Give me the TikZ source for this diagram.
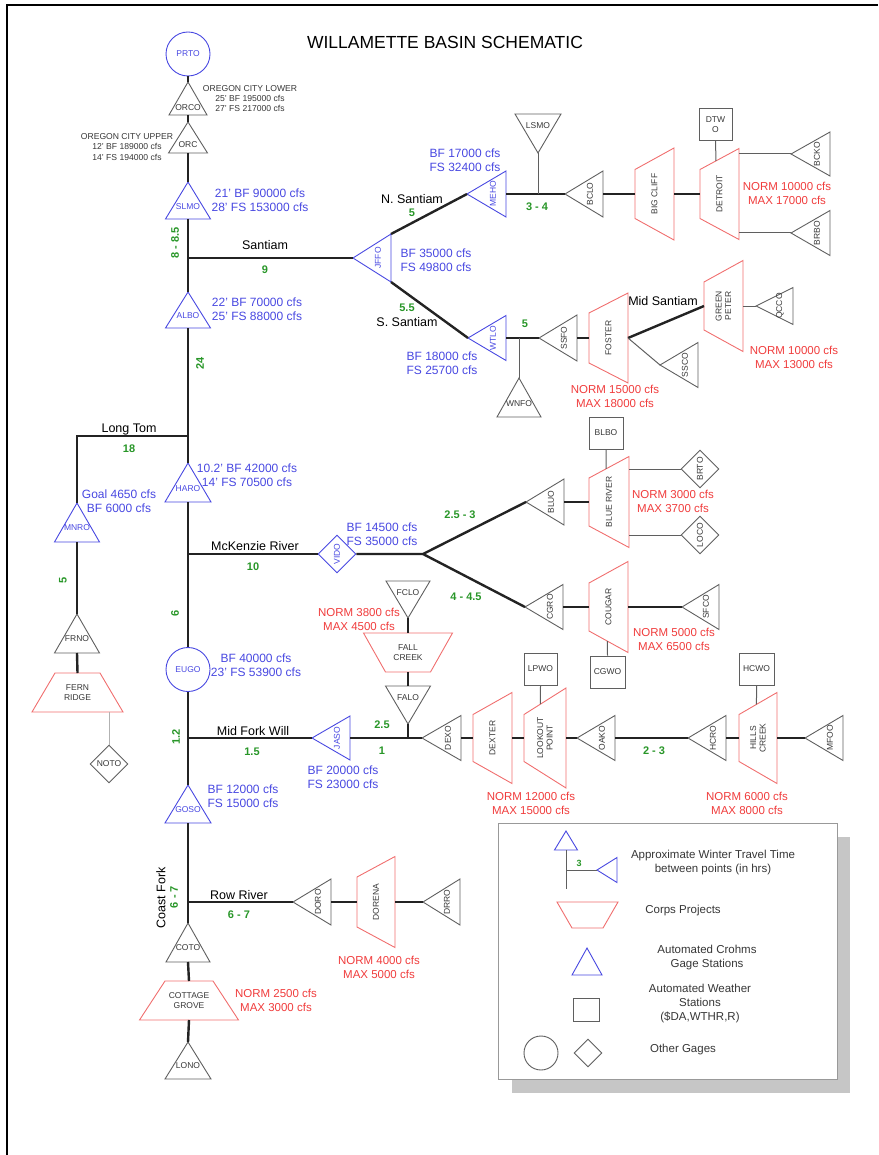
\documentclass[tikz,border=0pt]{standalone}
\usepackage{fontspec}
\setmainfont{Liberation Sans}
\usetikzlibrary{shapes.geometric,calc}
\definecolor{cb}{RGB}{72,72,225}
\definecolor{cr}{RGB}{240,110,110}
\definecolor{crt}{RGB}{240,60,60}
\definecolor{cg}{RGB}{95,95,95}
\definecolor{tg}{RGB}{55,55,55}
\definecolor{cgr}{RGB}{40,150,40}
\definecolor{cs}{RGB}{35,35,35}
\tikzset{
 shp/.style={line width=0.9pt},
 kb/.style={draw=cb,text=cb},
 kg/.style={draw=cg,text=tg},
 proj/.style={draw=cr,line width=0.9pt},
 lbl/.style={font=\fontsize{8.5}{9.5}\selectfont,inner sep=0pt,align=center},
 stem/.style={draw=cs,line width=2.4pt},
 thinl/.style={draw=cg,line width=1pt},
 bl/.style={text=cb,font=\fontsize{12}{14}\selectfont,align=center,inner sep=0pt},
 rl/.style={text=crt,font=\fontsize{11.5}{14}\selectfont,align=center,inner sep=0pt},
 gl/.style={text=cgr,font=\bfseries\fontsize{11}{13}\selectfont,inner sep=0pt},
 rv/.style={text=black,font=\fontsize{12.5}{15}\selectfont,inner sep=0pt},
 ol/.style={text=tg,font=\fontsize{8.6}{10.3}\selectfont,align=center,inner sep=0pt},
 lg/.style={text=tg,font=\fontsize{11.5}{14}\selectfont,align=center,inner sep=0pt},
 wbox/.style={draw=cg,line width=0.9pt,minimum width=33pt,minimum height=32pt,inner sep=0pt,align=center,text=tg,font=\fontsize{8.5}{9.5}\selectfont},
 diam/.style={diamond,aspect=1,minimum width=38pt,minimum height=38pt,inner sep=0pt,line width=0.9pt,font=\fontsize{8.5}{9.5}\selectfont},
 circ/.style={circle,minimum size=44pt,inner sep=0pt,line width=0.9pt,font=\fontsize{8.5}{9.5}\selectfont},
}
% up triangle: name, x, apex y, half width, height, style, text, text offset above base
\newcommand\myTU[8]{%
 \draw[shp,#6] (#2,#3) -- ({#2+#4},{#3+#5}) -- ({#2-#4},{#3+#5}) -- cycle;
 \coordinate (#1-t) at (#2,#3); \coordinate (#1-b) at (#2,{#3+#5});
 \node[lbl,#6,draw=none] (#1) at (#2,{#3+#5-#8}) {#7};}
% left-pointing triangle: name, tip x, tip y, half height, length, style, text
\newcommand\myTL[7]{%
 \draw[shp,#6] (#2,#3) -- ({#2+#5},{#3-#4}) -- ({#2+#5},{#3+#4}) -- cycle;
 \coordinate (#1-t) at (#2,#3); \coordinate (#1-b) at ({#2+#5},#3);
 \coordinate (#1-bn) at ({#2+#5},{#3-#4}); \coordinate (#1-bs) at ({#2+#5},{#3+#4});
 \node[lbl,#6,draw=none,rotate=90] (#1) at ({#2+#5-13},#3) {#7};}
% down triangle: name, x, top y, half width, height, style, text
\newcommand\myTD[7]{%
 \draw[shp,#6] ({#2-#4},#3) -- ({#2+#4},#3) -- (#2,{#3+#5}) -- cycle;
 \coordinate (#1-t) at (#2,#3); \coordinate (#1-b) at (#2,{#3+#5});
 \node[lbl,#6,draw=none] (#1) at (#2,{#3+12}) {#7};}
% vertical trapezoid: name, left x, centre y, width, narrow half, wide half, text
\newcommand\myTZ[7]{%
 \draw[proj] (#2,{#3-#5}) -- ({#2+#4},{#3-#6}) -- ({#2+#4},{#3+#6}) -- (#2,{#3+#5}) -- cycle;
 \coordinate (#1-w) at (#2,#3); \coordinate (#1-e) at ({#2+#4},#3);
 \coordinate (#1-nw) at (#2,{#3-#5}); \coordinate (#1-ne) at ({#2+#4},{#3-#6});
 \coordinate (#1-sw) at (#2,{#3+#5}); \coordinate (#1-se) at ({#2+#4},{#3+#6});
 \node[lbl,text=tg,rotate=90] (#1) at ({#2+#4/2},#3) {#7};}
% horizontal trapezoid: name, centre x, top y, height, top half, bottom half, text
\newcommand\myTH[7]{%
 \draw[proj] ({#2-#5},#3) -- ({#2+#5},#3) -- ({#2+#6},{#3+#4}) -- ({#2-#6},{#3+#4}) -- cycle;
 \coordinate (#1-t) at (#2,#3); \coordinate (#1-b) at (#2,{#3+#4});
 \node[lbl,text=tg] (#1) at (#2,{#3+#4/2}) {#7};}
\begin{document}
\begin{tikzpicture}[x=1pt,y=-1pt]
\useasboundingbox (0,0) rectangle (878,1155);
\draw[line width=2.2pt,black] (7,1156) -- (7,5) -- (878,5);
\node[font=\fontsize{17.5}{20}\selectfont,inner sep=0pt] (title) at (445,42) {WILLAMETTE BASIN SCHEMATIC};

% ---------------- main stem shapes ----------------
\node[circ,draw=cb,text=cb] (prto) at (188,54) {PRTO};
\myTU{orco}{188}{82}{19}{33}{kg}{ORCO}{7}
\myTU{orc}{188}{122}{19.5}{31}{kg}{ORC}{8}
\myTU{slmo}{188}{182}{22.5}{37}{kb}{SLMO}{12}
\myTU{albo}{188}{292}{22.5}{36}{kb}{ALBO}{12}
\myTU{haro}{188}{463}{23}{39}{kb}{HARO}{13}
\node[circ,draw=cb,text=cb] (eugo) at (188,669.5) {EUGO};
\myTU{goso}{188}{785}{23}{38}{kb}{GOSO}{13}
\myTU{coto}{188}{923}{22}{39}{kg}{COTO}{14}
\myTH{cg}{189}{981}{39}{24}{49.5}{COTTAGE\\GROVE}
\myTU{lono}{188}{1042}{23}{37}{kg}{LONO}{13}

\draw[stem] (prto.south) -- (orco-t);
\draw[stem] (orco-b) -- (orc-t);
\draw[stem] (orc-b) -- (slmo-t);
\draw[stem] (slmo-b) -- (albo-t);
\draw[stem] (albo-b) -- (haro-t);
\draw[stem] (haro-b) -- (eugo.north);
\draw[stem] (eugo.south) -- (goso-t);
\draw[stem] (goso-b) -- (coto-t);
\draw[stem] (coto-b) -- (cg-t);
\draw[stem] (cg-b) -- (lono-t);

% ---------------- Santiam ----------------
\coordinate (jsant) at (188,258);
\myTL{jffo}{353}{258}{24}{38}{kb}{JFFO}
\myTL{meho}{467}{194}{23}{39}{kb}{MEHO}
\myTD{lsmo}{538}{114}{23}{39}{kg}{LSMO}
\myTL{bclo}{565}{194}{23}{38}{kg}{BCLO}
\myTZ{bigcliff}{635}{194}{39}{24.5}{46}{BIG CLIFF}
\myTZ{detroit}{700}{194}{39}{24.5}{45.5}{DETROIT}
\node[wbox] (dtwo) at (715.5,124.5) {DTW\\O};
\myTL{bcko}{791}{154}{22}{39}{kg}{BCKO}
\myTL{brbo}{791}{233}{22.5}{39}{kg}{BRBO}
\myTL{wtlo}{468}{338}{22.5}{38}{kb}{WTLO}
\myTU{wnfo}{519}{378}{22}{39}{kg}{WNFO}{13}
\myTL{ssfo}{539}{338}{23}{38}{kg}{SSFO}
\myTZ{foster}{589}{338}{39}{25}{45}{FOSTER}
\myTL{ssco}{660}{365}{22.5}{38}{kg}{SSCO}
\myTZ{gp}{704}{306}{39}{24}{45.5}{GREEN\\PETER}
\myTL{qcco}{756}{306}{18.5}{37}{kg}{QCCO}

\draw[stem] (jsant) -- (jffo-t);
\draw[stem] (jffo-bn) -- (meho-t);
\draw[stem] (meho-b) -- (bclo-t);
\draw[thinl] (lsmo-b) -- (lsmo-b |- meho-t);
\draw[stem] (bclo-b) -- (bigcliff-w);
\draw[stem] (bigcliff-e) -- (detroit-w);
\draw[thinl] (dtwo.south) -- ($(detroit-nw)!0.41!(detroit-ne)$);
\draw[thinl] (detroit-e |- bcko-t) -- (bcko-t);
\draw[thinl] (detroit-e |- brbo-t) -- (brbo-t);
\draw[stem] (jffo-bs) -- (wtlo-t);
\draw[stem] (wtlo-b) -- (ssfo-t);
\draw[thinl] (wnfo-t) -- (wnfo-t |- wtlo-t);
\draw[stem] (ssfo-b) -- (foster-w);
\draw[stem] (foster-e) -- (gp-w);
\draw[thinl] (foster-e) -- (ssco-t);
\draw[thinl] (gp-e) -- (qcco-t);

% ---------------- Long Tom ----------------
\coordinate (jlt) at (188,436);
\coordinate (ltc) at (77,436);
\myTU{mnro}{77}{503}{22.5}{39}{kb}{MNRO}{14}
\myTU{frno}{77}{614}{22.5}{39}{kg}{FRNO}{14}
\myTH{fr}{77.5}{673}{39}{22.5}{45.5}{FERN\\RIDGE}
\node[diam,draw=cg,text=tg] (noto) at (109,764) {NOTO};
\draw[stem] (jlt) -- (ltc) -- (mnro-t);
\draw[stem] (mnro-b) -- (frno-t);
\draw[stem] (frno-b) -- (fr-t);
\draw[thinl,draw=gray!60] (noto.north |- fr-b) -- (noto.north);

% ---------------- McKenzie ----------------
\coordinate (jmk) at (188,554);
\coordinate (mkb) at (423,554);
\node[diam,draw=cb,text=cb,rotate=90] (vido) at (337,554) {VIDO};
\myTL{bluo}{526}{502}{23}{38}{kg}{BLUO}
\myTZ{blue}{589}{502}{40}{24}{45.5}{BLUE RIVER}
\node[wbox,minimum width=34pt] (blbo) at (606,433) {BLBO};
\node[diam,draw=cg,text=tg,rotate=90] (brto) at (700,469) {BRTO};
\node[diam,draw=cg,text=tg,rotate=90] (loco) at (700,535) {LOCO};
\myTL{cgro}{525}{607}{22.5}{38}{kg}{CGRO}
\myTZ{cougar}{589}{607}{39}{24}{45.5}{COUGAR}
\node[wbox,minimum width=35pt] (cgwo) at (607.5,672) {CGWO};
\myTL{sfco}{682}{607}{22.5}{37}{kg}{SFCO}
\draw[stem] (jmk) -- (vido.north);
\draw[stem] (vido.south) -- (mkb) -- (bluo-t);
\draw[stem] (mkb) -- (cgro-t);
\draw[stem] (bluo-b) -- (blue-w);
\draw[thinl] (blbo.south) -- ($(blue-nw)!0.43!(blue-ne)$);
\draw[thinl] (blue-e |- brto.north) -- (brto.north);
\draw[thinl] (blue-e |- loco.north) -- (loco.north);
\draw[stem] (cgro-b) -- (cougar-w);
\draw[stem] (cougar-e) -- (sfco-t);
\draw[thinl] ($(cougar-sw)!0.47!(cougar-se)$) -- (cgwo.north);

% ---------------- Middle Fork ----------------
\coordinate (jmf) at (188,738);
\coordinate (jfc) at (408,738);
\myTL{jaso}{312}{738}{22}{38}{kb}{JASO}
\myTD{fclo}{408}{581}{22}{37}{kg}{FCLO}
\myTH{fc}{408}{633}{39}{44.5}{22.5}{FALL\\CREEK}
\myTD{falo}{408}{686}{22.5}{38}{kg}{FALO}
\myTL{dexo}{422}{738}{22.5}{39}{kg}{DEXO}
\myTZ{dexter}{473}{738}{39}{23.5}{45.5}{DEXTER}
\myTZ{lookout}{524}{738}{42}{23.5}{50}{LOOKOUT\\POINT}
\node[wbox] (lpwo) at (540.5,669) {LPWO};
\myTL{oako}{577}{738}{22.5}{38}{kg}{OAKO}
\myTL{hcro}{688}{738}{22.5}{38}{kg}{HCRO}
\myTZ{hills}{739}{738}{38}{23.5}{45.5}{HILLS\\CREEK}
\node[wbox,minimum width=35pt] (hcwo) at (756.5,669) {HCWO};
\myTL{mfoo}{805}{738}{22.5}{38}{kg}{MFOO}
\draw[stem] (jmf) -- (jaso-t);
\draw[stem] (jaso-b) -- (dexo-t);
\draw[stem] (jfc) -- (falo-b);
\draw[stem] (falo-t) -- (fc-b);
\draw[stem] (fc-t) -- (fclo-b);
\draw[stem] (dexo-b) -- (dexter-w);
\draw[stem] (dexter-e) -- (lookout-w);
\draw[thinl] (lpwo.south) -- ($(lookout-nw)!0.39!(lookout-ne)$);
\draw[stem] (lookout-e) -- (oako-t);
\draw[stem] (oako-b) -- (hcro-t);
\draw[stem] (hcro-b) -- (hills-w);
\draw[thinl] (hcwo.south) -- ($(hills-nw)!0.46!(hills-ne)$);
\draw[stem] (hills-e) -- (mfoo-t);

% ---------------- Row River ----------------
\coordinate (jrr) at (188,902);
\myTL{doro}{293}{902}{23}{38}{kg}{DORO}
\myTZ{dorena}{357}{902}{38}{25}{45.5}{DORENA}
\myTL{drro}{423}{902}{23}{37}{kg}{DRRO}
\draw[stem] (jrr) -- (doro-t);
\draw[stem] (doro-b) -- (dorena-w);
\draw[stem] (dorena-e) -- (drro-t);

% ---------------- text labels ----------------
\node[ol] (ocl) at (250,98.5) {OREGON CITY LOWER\\25' BF 195000 cfs\\27' FS 217000 cfs};
\node[ol] (ocu) at (127,147) {OREGON CITY UPPER\\12' BF 189000 cfs\\14' FS 194000 cfs};

\node[bl] (b1) at (260,200) {21' BF 90000 cfs\\28' FS 153000 cfs};
\node[bl] (b2) at (257,309) {22' BF 70000 cfs\\25' FS 88000 cfs};
\node[bl] (b3) at (465,160) {BF 17000 cfs\\FS 32400 cfs};
\node[bl] (b4) at (436,260.5) {BF 35000 cfs\\FS 49800 cfs};
\node[bl] (b5) at (442,363.5) {BF 18000 cfs\\FS 25700 cfs};
\node[bl] (b6) at (119,501.5) {Goal 4650 cfs\\BF 6000 cfs};
\node[bl] (b7) at (247,475) {10.2' BF 42000 cfs\\14' FS 70500 cfs};
\node[bl] (b8) at (382,534.5) {BF 14500 cfs\\FS 35000 cfs};
\node[bl] (b9) at (256,665.5) {BF 40000 cfs\\23' FS 53900 cfs};
\node[bl] (b10) at (343,777) {BF 20000 cfs\\FS 23000 cfs};
\node[bl] (b11) at (243,796.5) {BF 12000 cfs\\FS 15000 cfs};

\node[rl] (r1) at (787,193.5) {NORM 10000 cfs\\MAX 17000 cfs};
\node[rl] (r2) at (615,396) {NORM 15000 cfs\\MAX 18000 cfs};
\node[rl] (r3) at (794,357) {NORM 10000 cfs\\MAX 13000 cfs};
\node[rl] (r4) at (673,501.5) {NORM 3000 cfs\\MAX 3700 cfs};
\node[rl] (r5) at (674,639) {NORM 5000 cfs\\MAX 6500 cfs};
\node[rl] (r6) at (359,619.5) {NORM 3800 cfs\\MAX 4500 cfs};
\node[rl] (r7) at (531,803.5) {NORM 12000 cfs\\MAX 15000 cfs};
\node[rl] (r8) at (747,803.5) {NORM 6000 cfs\\MAX 8000 cfs};
\node[rl] (r9) at (379,967.5) {NORM 4000 cfs\\MAX 5000 cfs};
\node[rl] (r10) at (276,1000) {NORM 2500 cfs\\MAX 3000 cfs};

\node[gl,rotate=90] (g1) at (175,243) {8 - 8.5};
\node[gl] (g2) at (265,270) {9};
\node[gl] (g3) at (412,213) {5};
\node[gl] (g4) at (537,207) {3 - 4};
\node[gl] (g5) at (407,308) {5.5};
\node[gl] (g6) at (525,324) {5};
\node[gl] (g7) at (129,449) {18};
\node[gl,rotate=90] (g8) at (200,363) {24};
\node[gl,rotate=90] (g9) at (63,580) {5};
\node[gl] (g10) at (253,567) {10};
\node[gl] (g11) at (460,515) {2.5 - 3};
\node[gl] (g12) at (466,597) {4 - 4.5};
\node[gl,rotate=90] (g13) at (175,613) {6};
\node[gl,rotate=90] (g14) at (176,737) {1.2};
\node[gl] (g15) at (252,752) {1.5};
\node[gl] (g16) at (382,725) {2.5};
\node[gl] (g17) at (382,751) {1};
\node[gl] (g18) at (654,751) {2 - 3};
\node[gl] (g19) at (239,915) {6 - 7};
\node[gl,rotate=90] (g20) at (174,897) {6 - 7};

\node[rv] (n1) at (265,245) {Santiam};
\node[rv] (n2) at (412,199) {N. Santiam};
\node[rv] (n3) at (407,322) {S. Santiam};
\node[rv] (n4) at (663,301) {Mid Santiam};
\node[rv] (n5) at (129,429) {Long Tom};
\node[rv] (n6) at (255,546) {McKenzie River};
\node[rv] (n7) at (253,731) {Mid Fork Will};
\node[rv] (n8) at (239,895) {Row River};
\node[rv,rotate=90] (n9) at (161,898) {Coast Fork};

% ---------------- legend ----------------
\fill[gray!45] (512,837) rectangle (850,1093);
\draw[fill=white,draw=gray!80,line width=1pt] (498,823) rectangle (837,1079);
\myTU{leg1}{566}{831}{11.5}{19}{kb}{}{5}
\myTL{leg2}{597}{870}{12.5}{20}{kb}{}
\coordinate (legj) at (566,870);
\coordinate (lege) at (566,889);
\draw[thinl] (leg1-b) -- (lege);
\draw[thinl] (legj) -- (leg2-t);
\node[gl,font=\bfseries\fontsize{9}{10}\selectfont] (leg3) at (579,863) {3};
\node[lg] (lt1) at (713,863) {Approximate Winter Travel Time\\between points (in hrs)};
\myTH{leg4}{587.5}{902}{26}{30.5}{15.5}{}
\node[lg] (lt2) at (683,911) {Corps Projects};
\myTU{leg5}{587}{948}{15}{27}{kb}{}{5}
\node[lg] (lt3) at (707,957.5) {Automated Crohms\\Gage Stations};
\node[draw=cg,line width=0.9pt,minimum width=26pt,minimum height=23pt,inner sep=0pt] (leg6) at (586,1009.5) {};
\node[lg] (lt4) at (700,1004) {Automated Weather\\Stations\\(\$DA,WTHR,R)};
\node[circle,draw=cg,line width=0.9pt,minimum size=34pt,inner sep=0pt] (leg7) at (541,1053) {};
\node[diamond,aspect=1,draw=cg,line width=0.9pt,minimum width=28pt,minimum height=28pt,inner sep=0pt] (leg8) at (588,1053) {};
\node[lg] (lt5) at (683,1050) {Other Gages};
\end{tikzpicture}
\end{document}
